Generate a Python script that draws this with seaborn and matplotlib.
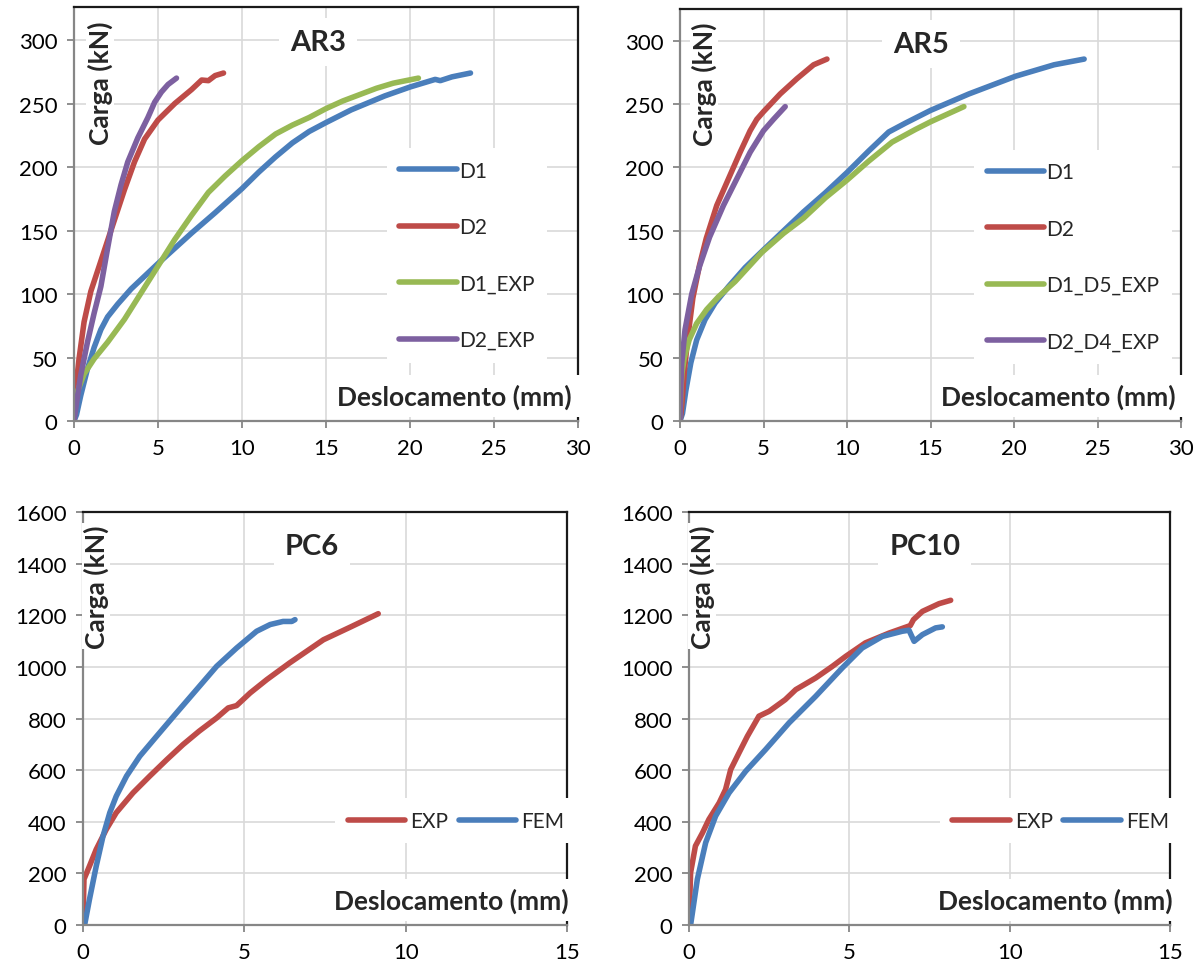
import matplotlib
matplotlib.use("Agg")
import matplotlib.pyplot as plt
import seaborn as sns

# ---------------- data ----------------
# AR3
ar3_d1_x = [0, 0.15, 0.4, 0.8, 1.2, 1.6, 2.0, 2.6, 3.4, 4.2, 5, 6, 7, 8.4, 10, 11, 12, 13, 14, 15, 16.5, 18.5, 20, 21, 21.5, 21.8, 22.5, 23.6]
ar3_d1_y = [0, 5, 20, 41, 58, 72, 82, 92, 104, 114, 124, 136, 148, 164, 183, 196, 208, 219, 228, 235, 245, 256, 263, 267, 269, 268, 271, 274]
ar3_d2_x = [0, 0.1, 0.3, 0.6, 1.0, 1.5, 2.0, 2.4, 3.0, 3.6, 4.2, 5, 6, 7, 7.6, 8.0, 8.4, 8.9]
ar3_d2_y = [0, 25, 49, 78, 102, 122, 142, 158, 182, 204, 222, 237, 250, 261, 268.5, 268, 272, 274]
ar3_d1exp_x = [0, 0.05, 0.2, 0.6, 1.2, 2, 3, 4, 5, 6, 7, 8, 9, 10, 11, 12, 13, 14, 15, 16, 17, 18, 19, 20.5]
ar3_d1exp_y = [0, 15, 23, 37, 49, 62, 80, 101, 122, 143, 162, 180, 193, 205, 216, 226, 233, 239, 246, 252, 257, 262, 266, 270]
ar3_d2exp_x = [0, 0.1, 0.4, 0.8, 1.2, 1.6, 2.0, 2.4, 2.8, 3.2, 3.8, 4.4, 4.8, 5.2, 5.6, 6.1]
ar3_d2exp_y = [0, 10, 36, 62, 85, 106, 136, 165, 186, 204, 223, 239, 251, 259, 265, 270]

# AR5
ar5_d1_x = [0, 0.15, 0.35, 0.65, 1.0, 1.5, 2.1, 2.9, 3.9, 5.0, 6.2, 7.4, 8.7, 10, 11.3, 12.5, 13.5, 15, 17.3, 20.1, 22.4, 24.2]
ar5_d1_y = [0, 6, 24, 46, 64, 80, 93, 106, 121, 135, 150, 165, 180, 196, 213, 228, 235, 245, 258, 272, 281, 285.5]
ar5_d2_x = [0, 0.05, 0.12, 0.26, 0.46, 0.77, 1.17, 1.57, 2.2, 3.0, 3.6, 4.2, 4.6, 5.0, 6, 7, 8, 8.8]
ar5_d2_y = [0, 5, 14, 39, 65, 97, 123, 144, 170, 194, 212, 229, 238, 244, 258, 270, 281, 285.5]
ar5_d1d5_x = [0, 0.05, 0.12, 0.26, 0.55, 1.0, 1.6, 2.3, 3.3, 4.9, 6.2, 7.4, 8.7, 10, 11.3, 12.7, 14.1, 15, 16, 17]
ar5_d1d5_y = [0, 25, 38, 50, 64, 77, 88, 98, 110, 133, 148, 160, 176, 190, 205, 220, 230, 236, 242, 248]
ar5_d2d4_x = [0, 0.03, 0.1, 0.3, 0.7, 1.17, 1.77, 2.6, 3.4, 4.2, 5.0, 5.6, 6.3]
ar5_d2d4_y = [0, 20, 45, 72, 100, 122, 145, 170, 191, 212, 229, 238, 248]

# PC6
pc6_exp_x = [0, 0.03, 0.2, 0.41, 0.72, 1.03, 1.55, 2.07, 2.6, 3.1, 3.6, 4.14, 4.5, 4.76, 5.18, 5.7, 6.4, 7.45, 8.3, 9.15]
pc6_exp_y = [0, 177, 228, 293, 370, 435, 512, 577, 641, 699, 751, 802, 841, 850, 899, 951, 1015, 1105, 1155, 1206]
pc6_fem_x = [0, 0.05, 0.2, 0.41, 0.62, 0.83, 1.03, 1.35, 1.76, 2.28, 2.9, 3.52, 4.14, 4.76, 5.38, 5.8, 6.2, 6.47, 6.57]
pc6_fem_y = [0, 0, 99, 228, 344, 435, 499, 577, 654, 731, 822, 912, 1002, 1073, 1138, 1164, 1176, 1176, 1183]

# PC10
pc10_exp_x = [0, 0.05, 0.2, 0.42, 0.62, 0.94, 1.14, 1.3, 1.56, 1.82, 2.18, 2.5, 3.0, 3.33, 3.95, 4.47, 4.89, 5.5, 6.24, 6.9, 7.0, 7.28, 7.8, 8.16]
pc10_exp_y = [0, 203, 306, 357, 409, 473, 525, 602, 667, 731, 809, 828, 873, 912, 957, 1002, 1041, 1093, 1131, 1160, 1183, 1215, 1245, 1258]
pc10_fem_x = [0, 0.05, 0.26, 0.52, 0.83, 1.25, 1.77, 2.39, 3.12, 3.95, 4.78, 5.4, 6.03, 6.65, 6.86, 7.02, 7.28, 7.69, 7.9]
pc10_fem_y = [0, 0, 177, 319, 422, 512, 596, 680, 783, 886, 996, 1073, 1118, 1138, 1142, 1099, 1125, 1151, 1155]

top_xticks = [0, 5, 10, 15, 20, 25, 30]
top_yticks = [0, 50, 100, 150, 200, 250, 300]
bot_xticks = [0, 5, 10, 15]
bot_yticks = [0, 200, 400, 600, 800, 1000, 1200, 1400, 1600]

BLUE, RED, GREEN, PURPLE = "#4A7EBB", "#BE4B48", "#98B954", "#7D60A0"

sns.set_style("whitegrid")
plt.rcParams['font.family'] = ['Lato', 'DejaVu Sans']

fig = plt.figure(figsize=(12.02, 9.70), dpi=100)

axes_pos = {
    "AR3": [74/1202, 1-422/970, 504/1202, 414/970],
    "AR5": [680/1202, 1-422/970, 501/1202, 412/970],
    "PC6": [83/1202, 1-926/970, 484/1202, 413/970],
    "PC10": [689/1202, 1-926/970, 481/1202, 413/970],
}

LW = 4.0


def style_axes(ax, xticks, yticks, xlim, ylim):
    ax.set_xlim(*xlim)
    ax.set_ylim(*ylim)
    ax.set_xticks(xticks)
    ax.set_yticks(yticks)
    ax.grid(True, color="#d9d9d9", lw=1.2)
    ax.set_axisbelow(True)
    for s in ["left", "bottom"]:
        ax.spines[s].set_color("#868686")
        ax.spines[s].set_linewidth(1.6)
    for s in ["top", "right"]:
        ax.spines[s].set_color("#1a1a1a")
        ax.spines[s].set_linewidth(1.6)
    ax.tick_params(axis="both", direction="out", length=5, width=1.3, color="#868686",
                   labelsize=16, labelcolor="black", pad=7, left=True, bottom=True)
    ax.set_xlabel("")
    ax.set_ylabel("")


def labels(ax, title, tx, ty, cx, cy, dx, dy):
    ax.text(tx, ty, title, transform=ax.transAxes, ha="center", va="center",
            fontsize=21, fontweight="bold", zorder=6,
            bbox=dict(facecolor="white", edgecolor="none", pad=8))
    ax.text(cx, cy, "Carga (kN)", transform=ax.transAxes, ha="center", va="center",
            rotation=90, fontsize=19, fontweight="bold", zorder=6,
            bbox=dict(facecolor="white", edgecolor="none", pad=1))
    ax.text(dx, dy, "Deslocamento (mm)", transform=ax.transAxes, ha="right", va="center",
            fontsize=19, fontweight="bold", zorder=6,
            bbox=dict(facecolor="white", edgecolor="none", pad=6))


def draw(ax, xs, ys, color, label):
    sns.lineplot(x=xs, y=ys, ax=ax, color=color, lw=LW, sort=False, estimator=None,
                 label=label, solid_capstyle="round", solid_joinstyle="round")


def white_legend(leg):
    fr = leg.get_frame()
    fr.set_facecolor("white")
    fr.set_edgecolor("none")
    fr.set_alpha(1)


# AR3
ax = fig.add_axes(axes_pos["AR3"])
draw(ax, ar3_d1_x, ar3_d1_y, BLUE, "D1")
draw(ax, ar3_d2_x, ar3_d2_y, RED, "D2")
draw(ax, ar3_d1exp_x, ar3_d1exp_y, GREEN, "D1_EXP")
draw(ax, ar3_d2exp_x, ar3_d2exp_y, PURPLE, "D2_EXP")
style_axes(ax, top_xticks, top_yticks, (0, 30), (0, 326))
labels(ax, "AR3", 0.484, 0.915, 0.052, 0.819, 0.988, 0.06)
white_legend(ax.legend(loc="upper left", bbox_to_anchor=(0.60, 0.684), frameon=True, fontsize=15,
                       handlelength=2.75, handletextpad=0.1, labelspacing=1.75, borderpad=0.6))

# AR5
ax = fig.add_axes(axes_pos["AR5"])
draw(ax, ar5_d1_x, ar5_d1_y, BLUE, "D1")
draw(ax, ar5_d2_x, ar5_d2_y, RED, "D2")
draw(ax, ar5_d1d5_x, ar5_d1d5_y, GREEN, "D1_D5_EXP")
draw(ax, ar5_d2d4_x, ar5_d2d4_y, PURPLE, "D2_D4_EXP")
style_axes(ax, top_xticks, top_yticks, (0, 30), (0, 325))
labels(ax, "AR5", 0.481, 0.915, 0.048, 0.82, 0.99, 0.06)
white_legend(ax.legend(loc="upper left", bbox_to_anchor=(0.567, 0.684), frameon=True, fontsize=15,
                       handlelength=2.75, handletextpad=0.1, labelspacing=1.75, borderpad=0.6))

# PC6
ax = fig.add_axes(axes_pos["PC6"])
draw(ax, pc6_exp_x, pc6_exp_y, RED, "EXP")
draw(ax, pc6_fem_x, pc6_fem_y, BLUE, "FEM")
style_axes(ax, bot_xticks, bot_yticks, (0, 15), (0, 1600))
labels(ax, "PC6", 0.473, 0.918, 0.027, 0.821, 1.004, 0.06)
white_legend(ax.legend(loc="center left", bbox_to_anchor=(0.50, 0.252), ncol=2, frameon=True, fontsize=15,
                       handlelength=2.75, handletextpad=0.25, columnspacing=0.5, borderpad=0.6))

# PC10
ax = fig.add_axes(axes_pos["PC10"])
draw(ax, pc10_exp_x, pc10_exp_y, RED, "EXP")
draw(ax, pc10_fem_x, pc10_fem_y, BLUE, "FEM")
style_axes(ax, bot_xticks, bot_yticks, (0, 15), (0, 1600))
labels(ax, "PC10", 0.49, 0.918, 0.027, 0.821, 1.006, 0.06)
white_legend(ax.legend(loc="center left", bbox_to_anchor=(0.50, 0.252), ncol=2, frameon=True, fontsize=15,
                       handlelength=2.75, handletextpad=0.25, columnspacing=0.5, borderpad=0.6))

fig.savefig("out.png", dpi=100)
